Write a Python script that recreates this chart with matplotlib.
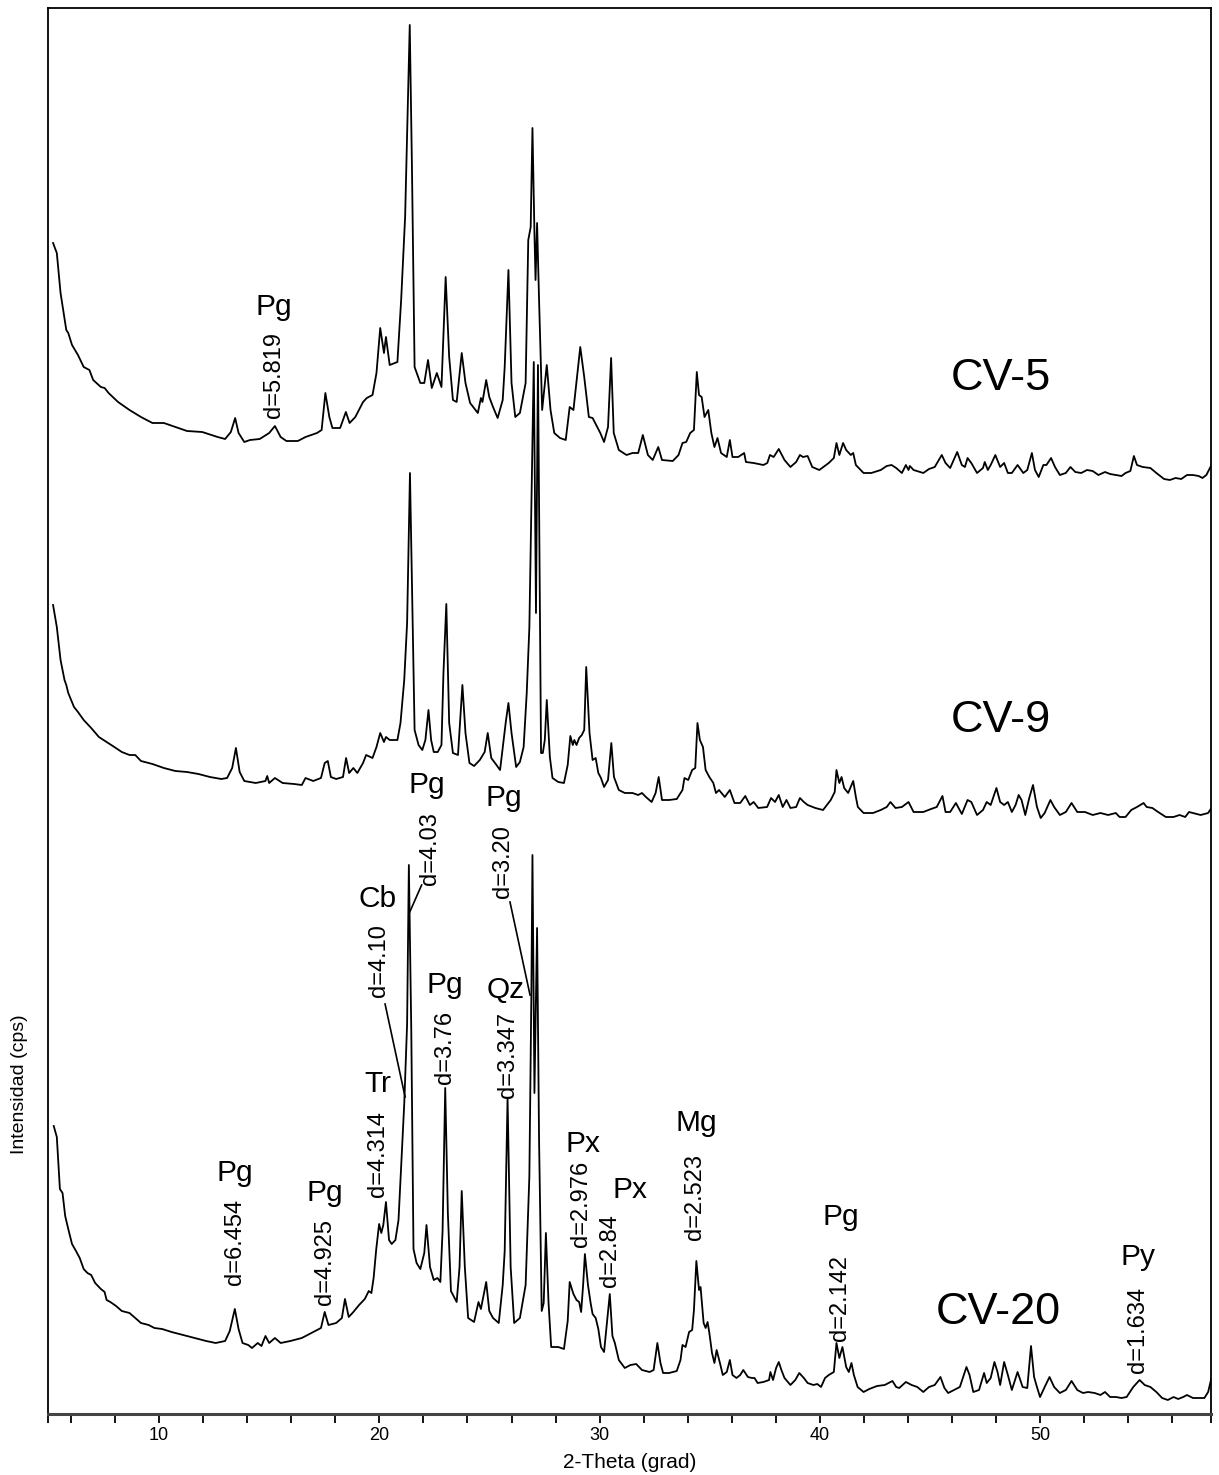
import matplotlib
matplotlib.use("Agg")
import matplotlib.pyplot as plt
from matplotlib.ticker import FixedLocator, NullFormatter

plt.rcParams['font.family'] = ['Liberation Sans', 'DejaVu Sans']

# ---------------- data (2-Theta in degrees, intensity in arbitrary cps units) ----------------
cv5_theta = [5.19, 5.36, 5.53, 5.79, 5.88, 6.05, 6.32, 6.58, 6.84, 7.01, 7.36, 7.53, 7.71, 8.14, 8.66, 9.18, 9.70,
             10.22, 10.74, 11.27, 11.96, 12.66, 13.00, 13.26, 13.455, 13.61, 13.87, 14.13, 14.57, 15.00, 15.26,
             15.52, 15.78, 16.30, 16.65, 17.17, 17.38, 17.55, 17.73, 17.87, 18.22, 18.48, 18.65, 18.91, 19.26,
             19.43, 19.69, 19.87, 20.04, 20.21, 20.30, 20.47, 20.82, 20.99, 21.17, 21.26, 21.38, 21.48, 21.60,
             21.86, 22.04, 22.21, 22.38, 22.61, 22.82, 23.01, 23.17, 23.34, 23.51, 23.74, 23.91, 24.12, 24.47,
             24.61, 24.68, 24.85, 24.99, 25.16, 25.37, 25.60, 25.69, 25.86, 26.00, 26.17, 26.38, 26.64, 26.76,
             26.87, 26.95, 27.04, 27.09, 27.16, 27.25, 27.39, 27.60, 27.77, 27.94, 28.20, 28.46, 28.64, 28.81,
             29.12, 29.30, 29.51, 29.68, 30.03, 30.20, 30.38, 30.52, 30.64,
             30.87, 31.22, 31.49, 31.75, 31.96, 32.19, 32.41, 32.66, 32.83, 33.32, 33.58, 33.76, 33.93, 34.11,
             34.28, 34.41, 34.51, 34.63, 34.76, 34.93, 35.07, 35.21, 35.35, 35.51, 35.77, 35.91, 36.03, 36.29,
             36.56, 36.64, 36.99, 37.43, 37.61, 37.73, 37.90, 38.13, 38.39, 38.66, 38.92, 39.09, 39.23, 39.44,
             39.65, 39.97, 40.40, 40.63, 40.75, 40.88, 41.05, 41.19, 41.40, 41.51, 41.63, 41.98, 42.33, 42.76,
             43.03, 43.25, 43.46, 43.72, 43.90, 44.02, 44.08, 44.25, 44.69, 44.95, 45.21, 45.53, 45.70, 45.91,
             46.23, 46.44, 46.58, 46.70, 46.87, 47.13, 47.40, 47.48, 47.62, 47.75, 47.96, 48.18, 48.36, 48.53,
             48.71, 48.97, 49.23, 49.41, 49.62, 49.76, 49.93, 50.14, 50.28, 50.49, 50.67, 50.89, 51.16, 51.37,
             51.59, 51.86, 52.12, 52.38, 52.64, 52.94, 53.17, 53.43, 53.69, 53.87, 54.09, 54.25, 54.39, 54.65,
             55.00, 55.27, 55.62, 55.88, 56.14, 56.40, 56.66, 56.93, 57.19, 57.36, 57.54, 57.77]
cv5_counts = [271, 261, 221, 184, 181, 169, 159, 147, 144, 134, 127, 126, 121, 112, 104, 97, 91,
              91, 87, 83, 82, 77, 75, 82, 96, 81, 72, 74, 75, 81, 88,
              77, 73, 73, 77, 81, 84, 121, 97, 86, 86, 102, 91, 97, 112,
              116, 119, 141, 186, 161, 177, 149, 152, 214, 297, 381, 489, 347, 147,
              131, 131, 154, 126, 141, 127, 237, 157, 114, 112, 161, 131, 111, 101,
              116, 112, 134, 117, 107, 96, 114, 147, 244, 131, 97, 101, 131, 274,
              287, 386, 281, 234, 291, 214, 104, 149, 104, 81, 76, 74, 107, 104,
              167, 137, 97, 96, 81, 72, 87, 156, 81,
              64, 59, 61, 61, 79, 59, 54, 67, 54, 53, 59, 71, 72, 81,
              84, 142, 119, 117, 97, 104, 81, 67, 76, 61, 57, 74, 57, 57,
              61, 52, 51, 49, 51, 59, 57, 65, 54, 47, 52, 59, 57, 58,
              47, 44, 51, 56, 71, 59, 71, 64, 59, 61, 49, 41, 41, 44,
              48, 49, 46, 41, 49, 44, 48, 44, 41, 45, 47, 59, 51, 46,
              62, 49, 47, 56, 51, 41, 46, 52, 44, 49, 59, 47, 51, 41,
              41, 49, 41, 44, 61, 44, 37, 49, 49, 56, 47, 39, 41, 47,
              42, 41, 44, 43, 39, 42, 40, 39, 38, 41, 43, 58, 49, 47,
              46, 41, 35, 34, 36, 35, 39, 39, 38, 36, 39, 49]

cv9_theta = [5.19, 5.36, 5.53, 5.71, 5.79, 5.88, 6.14, 6.32, 6.58, 6.92, 7.27, 7.62, 7.97, 8.31, 8.66, 8.92, 9.18,
             9.70, 10.22, 10.74, 11.27, 11.79, 12.31, 12.83, 13.09, 13.32, 13.49, 13.66, 13.87, 14.39, 14.83,
             14.91, 15.00, 15.26, 15.61, 16.13, 16.48, 16.65, 17.00, 17.35, 17.52, 17.66, 17.80, 18.04, 18.35,
             18.49, 18.63, 18.82, 19.00, 19.26, 19.40, 19.69, 19.87, 20.04, 20.21, 20.30, 20.47, 20.82, 20.96,
             21.13, 21.26, 21.39, 21.52, 21.60, 21.78, 21.95, 22.09, 22.23, 22.35, 22.47, 22.65, 22.82, 22.91,
             23.04, 23.17, 23.34, 23.57, 23.77, 23.91, 24.09, 24.30, 24.56, 24.78, 24.92, 25.08, 25.25, 25.48,
             25.65, 25.74, 25.86, 26.00, 26.21, 26.38, 26.55, 26.69, 26.81, 27.01, 27.11, 27.20, 27.34, 27.42,
             27.51, 27.60, 27.74, 27.86, 28.12, 28.38, 28.55, 28.67, 28.78, 28.85, 28.95, 29.07, 29.19, 29.30,
             29.39, 29.54, 29.68, 29.82, 29.94, 30.06, 30.20, 30.38, 30.53, 30.65,
             30.87, 31.14, 31.49, 31.75, 31.92, 32.10, 32.36, 32.54, 32.68, 32.83, 33.15, 33.50, 33.76, 33.85,
             34.02, 34.20, 34.34, 34.44, 34.55, 34.69, 34.81, 34.98, 35.16, 35.28, 35.42, 35.68, 35.91, 36.12,
             36.38, 36.61, 36.82, 36.99, 37.20, 37.60, 37.78, 37.96, 38.13, 38.31, 38.48, 38.66, 38.92, 39.09,
             39.27, 39.44, 39.79, 40.14, 40.49, 40.67, 40.75, 40.88, 40.98, 41.10, 41.28, 41.51, 41.63, 41.72,
             41.98, 42.41, 42.76, 43.03, 43.20, 43.43, 43.72, 44.02, 44.25, 44.69, 45.04, 45.30, 45.56, 45.70,
             45.91, 46.17, 46.44, 46.70, 46.87, 47.13, 47.40, 47.57, 47.75, 48.01, 48.18, 48.36, 48.53, 48.71,
             48.88, 49.02, 49.15, 49.32, 49.50, 49.67, 49.85, 50.02, 50.20, 50.46, 50.63, 50.89, 51.16, 51.42,
             51.68, 52.03, 52.38, 52.73, 53.08, 53.43, 53.60, 53.87, 54.13, 54.39, 54.69, 54.83, 55.09, 55.35,
             55.70, 56.05, 56.32, 56.58, 56.75, 56.93, 57.28, 57.62, 57.80]
cv9_counts = [309, 287, 254, 234, 229, 221, 207, 202, 194, 186, 177, 172, 167, 162, 159, 159, 153,
              150, 146, 143, 142, 140, 137, 135, 136, 146, 166, 142, 133, 131, 133,
              138, 131, 136, 131, 130, 129, 136, 133, 136, 151, 153, 137, 135, 137,
              156, 141, 146, 141, 151, 159, 156, 167, 181, 172, 177, 174, 174, 191,
              234, 291, 441, 281, 184, 169, 164, 174, 204, 174, 162, 162, 169, 241,
              310, 191, 161, 159, 229, 181, 151, 148, 154, 162, 181, 156, 151, 144,
              176, 192, 211, 181, 147, 152, 167, 221, 287, 552, 301, 549, 161, 161,
              174, 214, 157, 136, 132, 131, 149, 178, 169, 174, 169, 176, 179, 184,
              247, 181, 154, 156, 141, 136, 127, 134, 171, 137,
              124, 121, 121, 119, 121, 117, 112, 121, 137, 114, 114, 115, 124, 136,
              134, 144, 146, 191, 174, 167, 144, 137, 131, 121, 124, 117, 124, 111,
              111, 118, 109, 112, 106, 107, 116, 112, 119, 107, 114, 106, 107, 116,
              112, 109, 106, 104, 114, 122, 144, 131, 137, 126, 121, 133, 117, 107,
              101, 101, 104, 107, 112, 106, 107, 112, 102, 102, 105, 107, 118, 102,
              102, 111, 100, 114, 112, 99, 104, 112, 109, 126, 112, 109, 112, 102,
              109, 119, 114, 99, 116, 129, 107, 96, 101, 114, 107, 99, 102, 111,
              102, 102, 99, 101, 99, 101, 97, 97, 104, 107, 111, 107, 106, 102,
              97, 97, 99, 97, 102, 101, 99, 101, 107]

cv20_theta = [5.22, 5.36, 5.50, 5.62, 5.74, 5.88, 6.05, 6.23, 6.40, 6.58, 6.75, 6.92, 7.10, 7.36, 7.53, 7.62, 7.79,
              8.05, 8.31, 8.66, 8.92, 9.18, 9.53, 9.79, 10.14, 10.57, 11.09, 11.61, 12.14, 12.57, 13.00, 13.21,
              13.44, 13.61, 13.79, 14.05, 14.22, 14.48, 14.65, 14.83, 15.00, 15.26, 15.52, 15.96, 16.48, 17.00,
              17.35, 17.52, 17.69, 18.04, 18.30, 18.44, 18.61, 18.82, 19.08, 19.34, 19.52, 19.64, 19.74, 19.86,
              19.99, 20.09, 20.18, 20.30, 20.44, 20.56, 20.73, 20.87, 20.99, 21.13, 21.26, 21.34, 21.45, 21.55,
              21.69, 21.86, 22.04, 22.14, 22.30, 22.47, 22.64, 22.77, 22.87, 22.99, 23.11, 23.25, 23.51, 23.64,
              23.74, 23.88, 24.03, 24.30, 24.50, 24.61, 24.85, 24.99, 25.16, 25.42, 25.60, 25.69, 25.82, 25.96,
              26.12, 26.38, 26.64, 26.81, 26.90, 26.95, 27.04, 27.16, 27.25, 27.37, 27.46, 27.56, 27.68, 27.80,
              28.12, 28.38, 28.55, 28.64, 28.81, 28.95, 29.07, 29.16, 29.25, 29.33, 29.47, 29.59, 29.68, 29.82,
              29.94, 30.06, 30.20, 30.34, 30.46, 30.58, 30.69,
              30.87, 31.14, 31.40, 31.66, 31.92, 32.27, 32.45, 32.62, 32.76, 32.88, 33.15, 33.50, 33.67, 33.76,
              33.90, 34.06, 34.20, 34.28, 34.39, 34.51, 34.58, 34.72, 34.81, 34.90, 34.98, 35.10, 35.21, 35.31,
              35.46, 35.59, 35.77, 35.91, 36.03, 36.21, 36.38, 36.52, 36.73, 36.91, 37.03, 37.17, 37.43, 37.69,
              37.75, 37.87, 38.01, 38.13, 38.25, 38.39, 38.66, 38.88, 39.06, 39.27, 39.44, 39.70, 39.88, 40.05,
              40.23, 40.40, 40.63, 40.75, 40.88, 41.02, 41.19, 41.31, 41.43, 41.54, 41.71, 41.98, 42.24, 42.59,
              42.94, 43.29, 43.46, 43.60, 43.90, 44.16, 44.42, 44.69, 44.95, 45.21, 45.47, 45.65, 45.82, 46.09,
              46.35, 46.65, 46.79, 46.96, 47.22, 47.45, 47.57, 47.75, 47.92, 48.06, 48.18, 48.36, 48.53, 48.71,
              48.97, 49.20, 49.41, 49.58, 49.72, 49.85, 49.99, 50.20, 50.42, 50.63, 50.89, 51.16, 51.42, 51.68,
              51.94, 52.17, 52.47, 52.73, 52.94, 53.17, 53.43, 53.69, 53.92, 54.22, 54.51, 54.74, 55.00, 55.27,
              55.53, 55.79, 56.05, 56.26, 56.49, 56.66, 56.93, 57.19, 57.45, 57.62, 57.77]
cv20_counts = [288, 277, 225, 221, 198, 185, 170, 163, 156, 145, 141, 139, 131, 125, 122, 114, 112,
               108, 103, 101, 96, 91, 89, 86, 85, 82, 79, 76, 73, 71, 73, 83,
               105, 85, 71, 69, 66, 71, 68, 78, 71, 76, 71, 73, 76, 82,
               86, 102, 89, 91, 96, 115, 97, 102, 109, 115, 123, 121, 136, 165,
               190, 181, 189, 212, 174, 170, 174, 194, 248, 310, 390, 549, 383, 165,
               151, 145, 161, 189, 147, 134, 136, 132, 183, 326, 201, 123, 112, 147,
               223, 147, 96, 92, 112, 105, 132, 103, 96, 91, 129, 163, 316, 147,
               91, 96, 129, 238, 419, 559, 321, 486, 274, 103, 111, 181, 111, 67,
               67, 65, 93, 132, 120, 114, 112, 102, 129, 160, 129, 111, 100, 96,
               85, 67, 62, 93, 120, 78, 71,
               54, 46, 49, 50, 44, 42, 44, 71, 51, 41, 41, 43, 54, 69,
               67, 82, 84, 104, 153, 124, 127, 91, 86, 92, 81, 61, 51, 64,
               51, 39, 42, 54, 39, 36, 39, 44, 37, 36, 36, 31, 32, 34,
               42, 34, 46, 52, 44, 36, 29, 34, 41, 36, 31, 29, 30, 27,
               36, 39, 42, 71, 56, 67, 47, 42, 51, 39, 27, 22, 25, 28,
               29, 33, 27, 26, 32, 29, 27, 22, 27, 29, 37, 26, 21, 24,
               27, 47, 39, 22, 24, 41, 31, 36, 52, 42, 29, 52, 39, 24,
               42, 27, 26, 68, 37, 27, 17, 27, 37, 27, 21, 24, 33, 24,
               21, 22, 21, 19, 22, 17, 17, 16, 17, 27, 34, 29, 27, 22,
               16, 14, 17, 15, 17, 19, 16, 16, 16, 22, 36]

sample_names = ["CV-5", "CV-9", "CV-20"]

# peak annotations: mineral, d-spacing text
peak_minerals = ["Pg", "Pg", "Pg", "Tr", "Cb", "Pg", "Pg", "Pg", "Qz", "Px", "Px", "Mg", "Pg", "Py"]
peak_dspacing = ["d=5.819", "d=6.454", "d=4.925", "d=4.314", "d=4.10", "d=4.03", "d=3.20", "d=3.76",
                 "d=3.347", "d=2.976", "d=2.84", "d=2.523", "d=2.142", "d=1.634"]

# ---------------- layout (positions / styles) ----------------
offsets = {"CV-5": 900, "CV-9": 500, "CV-20": 0}
traces = {"CV-5": (cv5_theta, cv5_counts), "CV-9": (cv9_theta, cv9_counts), "CV-20": (cv20_theta, cv20_counts)}
name_pos = {"CV-5": (48.2, 1036), "CV-9": (48.2, 694), "CV-20": (48.1, 101)}

# (x, y) centre of mineral label, (x, y) centre of d-label
mineral_pos = [(15.21, 1107), (13.44, 241), (17.52, 221), (19.95, 330), (19.92, 515), (22.15, 629),
               (25.63, 616), (22.98, 429), (25.74, 424), (29.25, 270), (31.40, 224), (34.41, 291),
               (40.93, 197), (54.45, 157)]
dlabel_pos = [(15.21, 1039), (13.47, 172), (17.52, 152), (19.95, 260), (20.0, 453), (22.30, 565),
              (25.63, 552), (22.98, 367), (25.86, 359), (29.16, 210), (30.46, 163), (34.33, 217),
              (40.93, 116), (54.45, 84)]
leaders = [((20.26, 410), (21.17, 317)),
           ((21.92, 529), (21.36, 501)),
           ((25.93, 512), (26.84, 419))]

W, H = 1219, 1475
fig = plt.figure(figsize=(W / 100, H / 100), dpi=100)
ax = fig.add_axes([48 / W, 1 - 1414 / H, (1211 - 48) / W, (1414 - 8) / H])

for name in sample_names:
    th, ct = traces[name]
    ax.plot(th, [c + offsets[name] for c in ct], color="black", lw=1.3, solid_joinstyle="round")
    ax.text(*name_pos[name], name, fontsize=32.5, ha="center", va="center")

for m, d, mp, dp in zip(peak_minerals, peak_dspacing, mineral_pos, dlabel_pos):
    ax.text(*mp, m, fontsize=21.5, ha="center", va="center")
    ax.text(*dp, d, fontsize=17, ha="center", va="center", rotation=90)

for (p0, p1) in leaders:
    ax.plot([p0[0], p1[0]], [p0[1], p1[1]], color="black", lw=1.2)

ax.set_xlim(4.96, 57.75)
ax.set_ylim(0, 1406)
ax.yaxis.set_visible(False)
ax.xaxis.set_major_locator(FixedLocator([10, 20, 30, 40, 50]))
ax.xaxis.set_minor_locator(FixedLocator([4.97, 6, 8, 12, 14, 16, 18, 22, 24, 26, 28, 32, 34, 36, 38, 42, 44,
                                         46, 48, 52, 54, 56, 57.74]))
ax.xaxis.set_minor_formatter(NullFormatter())
ax.tick_params(axis="x", which="both", direction="out", length=6.5, width=1.3, labelsize=13, pad=2.5)
for s in ["left", "top", "right"]:
    ax.spines[s].set_linewidth(1.3)
ax.spines["bottom"].set_linewidth(2.2)
ax.spines["bottom"].set_color("#444444")

fig.text(630 / W, 1 - 1462 / H, "2-Theta (grad)", fontsize=15, ha="center", va="center")
fig.text(20 / W, 1 - 1084 / H, "Intensidad (cps)", fontsize=14, ha="center", va="center", rotation=90)

fig.savefig("out.png", dpi=100)
